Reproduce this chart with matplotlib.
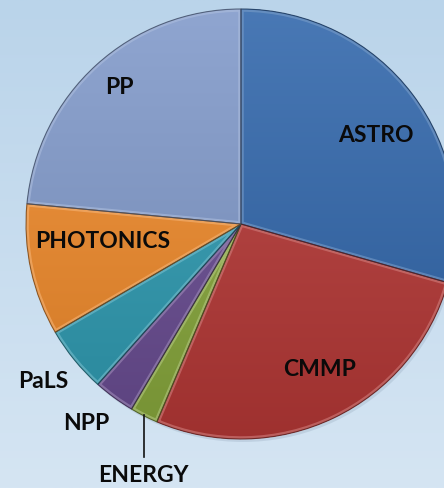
import numpy as np
import matplotlib
matplotlib.use("Agg")
import matplotlib.pyplot as plt
from matplotlib.patches import Wedge
from matplotlib.colors import to_rgb

# ---- data ----
categories = ["ASTRO", "CMMP", "ENERGY", "NPP", "PaLS", "PHOTONICS", "PP"]
shares = [29.4, 27.0, 2.1, 3.1, 5.0, 9.9, 23.5]
colors = ["#3066AB", "#B63836", "#88A83C", "#694C92", "#2E9BB2", "#F08A2A", "#8099CA"]

W, H = 444, 488
fig = plt.figure(figsize=(W / 100, H / 100), dpi=100)
ax = fig.add_axes([0, 0, 1, 1])

# background gradient
top = np.array(to_rgb("#BAD4EA"))
bot = np.array(to_rgb("#D5E5F3"))
t = np.linspace(0, 1, 256)[:, None]
bg = (bot * (1 - t) + top * t)[:, None, :]
ax.imshow(bg, extent=(0, W, 0, H), origin="lower", aspect="auto", zorder=0)

cx, cy, R = 241, H - 224, 215

wedges, _ = ax.pie(shares, colors=colors, startangle=90, counterclock=False,
                   center=(cx, cy), radius=R, frame=True,
                   wedgeprops=dict(linewidth=0))
ax.set_xlim(0, W)
ax.set_ylim(0, H)
ax.set_aspect("auto")
ax.axis("off")

def shade(c, f):
    c = np.array(to_rgb(c))
    if f >= 0:
        return c + (1 - c) * f
    return c * (1 + f)

# soft shadow
sh = Wedge((cx + 2, cy - 3), R, 0, 360, facecolor="#6a7f98", alpha=0.18,
           linewidth=0, zorder=1)
ax.add_patch(sh)

for w, c in zip(wedges, colors):
    w.set_zorder(2)
    tt = np.linspace(0, 1, 256)[:, None]
    lo = shade(c, -0.13)
    hi = shade(c, 0.12)
    grad = (lo * (1 - tt) + hi * tt)[:, None, :]
    im = ax.imshow(grad, extent=(cx - R, cx + R, cy - R, cy + R), origin="lower",
                   aspect="auto", zorder=3)
    im.set_clip_path(w)
    hl = Wedge(w.center, w.r, w.theta1, w.theta2, facecolor="none",
               edgecolor=shade(c, 0.35), linewidth=4, alpha=0.6, zorder=4)
    ax.add_patch(hl)
    hl.set_clip_path(w)
    ol = Wedge(w.center, w.r, w.theta1, w.theta2, facecolor="none",
               edgecolor=shade(c, -0.5), linewidth=0.8, alpha=0.8, zorder=5)
    ax.add_patch(ol)

# labels (layout positions in image pixels)
label_pos = {
    "ASTRO": (376, 135),
    "PP": (119, 87),
    "PHOTONICS": (103, 241),
    "CMMP": (320, 369),
    "PaLS": (43, 381),
    "NPP": (86, 423),
    "ENERGY": (143, 476),
}
for name in categories:
    x, y = label_pos[name]
    ax.text(x, H - y, name, ha="center", va="center", fontsize=16.5,
            fontweight="bold", family=["Lato", "DejaVu Sans"], color="#0a0a0a",
            zorder=10)

# leader line for ENERGY
ax.plot([144, 144], [H - 415, H - 457], color="#111111", linewidth=1.2, zorder=9)

fig.savefig("out.png", dpi=100)
